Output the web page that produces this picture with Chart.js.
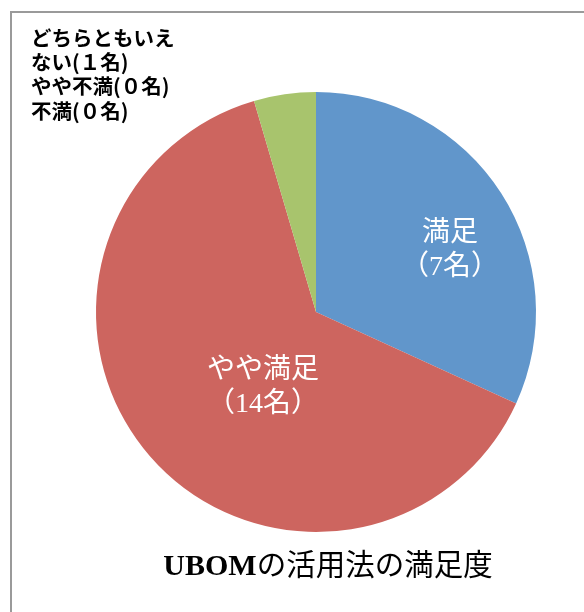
<!DOCTYPE html>
<html>
<head>
<meta charset="utf-8">
<script src="https://cdn.jsdelivr.net/npm/chart.js@4"></script>
<style>
  html, body { margin: 0; padding: 0; background: #ffffff; }
  #wrap { position: relative; width: 584px; height: 612px; overflow: hidden; }
  #frame { position: absolute; left: 10px; top: 11px; width: 700px; height: 700px;
           border-left: 2px solid #9a9a9a; border-top: 2px solid #9a9a9a; box-sizing: border-box; }
  canvas { position: absolute; left: 0; top: 0; }
</style>
</head>
<body>
<div id="wrap">
  <div id="frame"></div>
  <canvas id="c" width="584" height="612"></canvas>
</div>
<script>
// ---- data ----
const categories = ['満足', 'やや満足', 'どちらともいえない', 'やや不満', '不満'];
const counts = [7, 14, 1, 0, 0];
const titleLatin = 'UBOM';
const titleRest = 'の活用法の満足度';
const outsideLabelLines = ['どちらともいえ', 'ない(１名)', 'やや不満(０名)', '不満(０名)'];

// ---- style ----
const colors = ['#6196CB', '#CD655F', '#A8C46D', '#8064A2', '#4BACC6'];
// inside-label placement: [angle offset from slice mid (deg), radius fraction]
const insidePlacement = [[8, 0.67], [-14, 0.42]];

const labelPlugin = {
  id: 'sliceLabels',
  afterDatasetsDraw(chart) {
    const ctx = chart.ctx;
    const meta = chart.getDatasetMeta(0);
    ctx.save();
    ctx.textAlign = 'center';
    ctx.textBaseline = 'middle';
    ctx.fillStyle = '#ffffff';
    ctx.font = '28px "Liberation Serif", "Noto Sans CJK JP", serif';
    insidePlacement.forEach((pl, i) => {
      const arc = meta.data[i];
      const p = arc.getProps(['x', 'y', 'startAngle', 'endAngle', 'outerRadius'], true);
      const mid = (p.startAngle + p.endAngle) / 2 + pl[0] * Math.PI / 180;
      const r = p.outerRadius * pl[1];
      const cx = p.x + Math.cos(mid) * r;
      const cy = p.y + Math.sin(mid) * r;
      ctx.fillText(categories[i], cx, cy - 17);
      ctx.fillText('（' + counts[i] + '名）', cx, cy + 17);
    });
    // outside label for the small slices
    ctx.textAlign = 'left';
    ctx.fillStyle = '#000000';
    ctx.font = 'bold 20.5px "Noto Sans CJK JP", sans-serif';
    outsideLabelLines.forEach((t, k) => {
      ctx.fillText(t, 31, 38 + k * 24.3);
    });
    // title
    const fLatin = 'bold 30px "Liberation Serif", serif';
    const fRest = '29.5px "Liberation Serif", "Noto Sans CJK JP", serif';
    ctx.font = fLatin;
    const w1 = ctx.measureText(titleLatin).width;
    ctx.font = fRest;
    const w2 = ctx.measureText(titleRest).width;
    const x0 = 328 - (w1 + w2) / 2;
    ctx.textAlign = 'left';
    ctx.font = fLatin;
    ctx.fillText(titleLatin, x0, 567);
    ctx.font = fRest;
    ctx.fillText(titleRest, x0 + w1, 567);
    ctx.restore();
  }
};

new Chart(document.getElementById('c'), {
  type: 'pie',
  data: {
    labels: categories,
    datasets: [{
      data: counts,
      backgroundColor: colors,
      borderWidth: 0
    }]
  },
  options: {
    responsive: false,
    animation: false,
    layout: { padding: { left: 96, right: 48, top: 92, bottom: 80 } },
    plugins: {
      legend: { display: false },
      tooltip: { enabled: false },
      title: { display: false }
    }
  },
  plugins: [labelPlugin]
});
</script>
</body>
</html>
